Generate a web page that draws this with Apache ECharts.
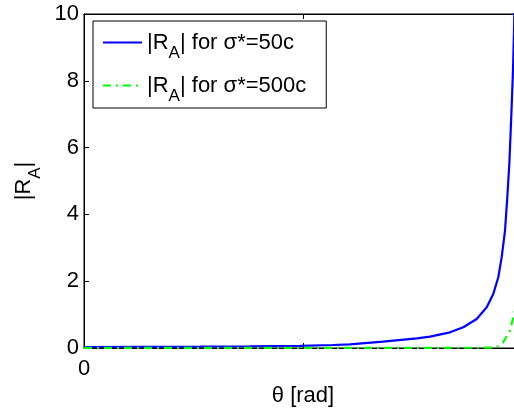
<!DOCTYPE html>
<html><head><meta charset="utf-8">
<script src="https://cdn.jsdelivr.net/npm/echarts@6/dist/echarts.min.js"></script>
<style>html,body{margin:0;padding:0;background:#fff}#c{width:514px;height:412px}</style>
</head><body><div id="c"></div>
<script>
// theta values (rad) and |R_A| readings
const thetaBlue = [0, 0.2367, 0.4160, 0.5953, 0.7746, 0.8930, 0.9540, 1.0723, 1.1942, 1.2409, 1.3126, 1.3603, 1.4083, 1.4442, 1.4679, 1.4858, 1.4980, 1.5098, 1.5181, 1.5253, 1.5303, 1.5349, 1.5385, 1.5421, 1.5443];
const rBlue = [0.03, 0.035, 0.04, 0.05, 0.065, 0.09, 0.11, 0.19, 0.29, 0.34, 0.47, 0.62, 0.87, 1.22, 1.62, 2.12, 2.72, 3.51, 4.51, 5.51, 6.51, 7.5, 8.3, 9.5, 10.5];
const thetaGreen = [0, 0.4160, 0.7746, 1.1333, 1.4202, 1.4560, 1.4799, 1.5036, 1.5275, 1.5396, 1.5443];
const rGreen = [0.005, 0.005, 0.005, 0.005, 0.008, 0.01, 0.02, 0.17, 0.52, 0.92, 1.1];
const xTicks = [0, Math.PI / 4, Math.PI / 2];
const yTicks = [0, 2, 4, 6, 8, 10];
const seriesNames = ['|R_A| for σ*=50c', '|R_A| for σ*=500c'];

const FONT = 'Liberation Sans';
const chart = echarts.init(document.getElementById('c'), null, {renderer: 'canvas'});
const pair = (xs, ys) => xs.map((x, i) => [x, ys[i]]);
const richSub = {
  n: {fontFamily: FONT, fontSize: 22, color: '#000', lineHeight: 30},
  s: {fontFamily: FONT, fontSize: 17, color: '#000', padding: [22, 0, 0, 0], lineHeight: 30}
};
function sub(name) {
  const m = name.match(/^\|R_A\|(.*)$/);
  return '{n||R}{s|A}{n||' + m[1] + '}';
}
chart.setOption({
  animation: false,
  grid: {left: 84, top: 14, right: -8, bottom: 64, show: true, borderColor: '#000', borderWidth: 1, outerBoundsMode: 'none', containLabel: false},
  legend: {
    left: 93, top: 21, orient: 'vertical',
    backgroundColor: '#fff', borderColor: '#000', borderWidth: 1,
    padding: [2, 20, 3, 9], itemGap: 4, itemWidth: 39, itemHeight: 1,
    data: seriesNames,
    formatter: sub,
    textStyle: {rich: richSub}
  },
  xAxis: [{
    type: 'value', min: xTicks[0], max: xTicks[2], interval: xTicks[1],
    axisLine: {lineStyle: {color: '#000', width: 1}},
    axisTick: {inside: true, length: 5, lineStyle: {color: '#000'}},
    splitLine: {show: false},
    axisLabel: {formatter: v => (v === 0 ? '0' : ''), fontFamily: FONT, fontSize: 22, color: '#000', margin: 10},
    name: 'θ [rad]', nameLocation: 'middle', nameGap: 37,
    nameTextStyle: {fontFamily: FONT, fontSize: 22, color: '#000'}
  }, {
    type: 'value', position: 'top', min: xTicks[0], max: xTicks[2], interval: xTicks[1],
    axisLine: {lineStyle: {color: '#000'}},
    axisTick: {inside: true, length: 5, lineStyle: {color: '#000'}},
    axisLabel: {show: false}, splitLine: {show: false}
  }],
  yAxis: {
    type: 'value', min: yTicks[0], max: yTicks[yTicks.length - 1], interval: 2,
    axisLine: {show: true, lineStyle: {color: '#000'}},
    axisTick: {show: true, inside: true, length: 5, lineStyle: {color: '#000'}},
    splitLine: {show: false},
    axisLabel: {fontFamily: FONT, fontSize: 22, color: '#000', margin: 5},
    name: '{n||R}{s|A}{n||}', nameLocation: 'middle', nameGap: 44, nameRotate: 90,
    nameTextStyle: {rich: richSub}
  },
  series: [{
    name: seriesNames[0], type: 'line', showSymbol: false, symbol: 'none',
    data: pair(thetaBlue, rBlue), clip: true, z: 3,
    lineStyle: {color: '#0000ff', width: 2.2}, itemStyle: {color: '#0000ff'}
  }, {
    name: seriesNames[1], type: 'line', showSymbol: false, symbol: 'none',
    data: pair(thetaGreen, rGreen), clip: true, z: 4,
    lineStyle: {color: '#00ff00', width: 2.2, type: [8, 5, 2, 5]}, itemStyle: {color: '#00ff00'}
  }]
});
</script></body></html>
